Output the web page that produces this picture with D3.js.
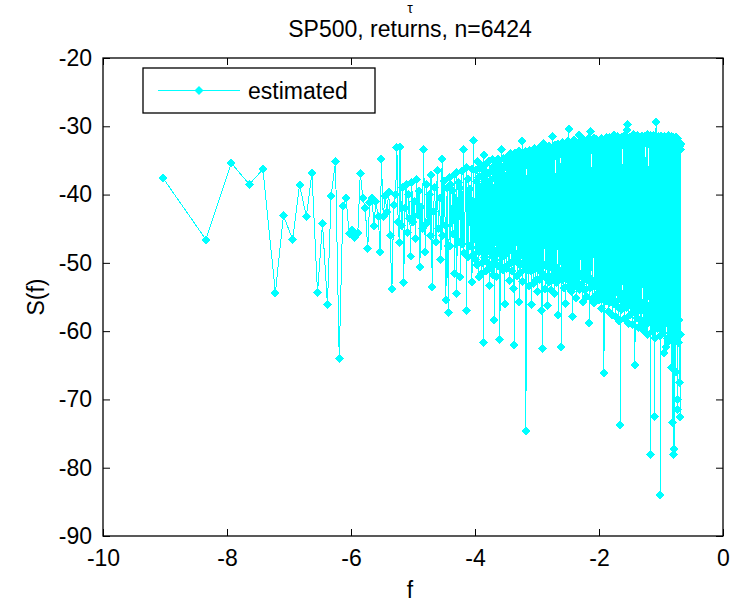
<!DOCTYPE html>
<html>
<head>
<meta charset="utf-8">
<script src="https://cdn.jsdelivr.net/npm/d3@7"></script>
<style>
  body { margin: 0; background: #fff; }
  svg text { font-family: "Liberation Sans", Arial, sans-serif; fill: #000; }
</style>
</head>
<body>
<svg id="chart" width="741" height="602"></svg>
<script>
// labels
const titleLines = ["τ", "SP500, returns, n=6424"];
const xLabel = "f";
const yLabel = "S(f)";
const seriesName = "estimated";
const xTicks = [-10, -8, -6, -4, -2, 0];
const yTicks = [-90, -80, -70, -60, -50, -40, -30, -20];

// low-frequency points, read one by one  [f, S(f)]
const headPoints = [
  [-9.03,-37.6],[-8.34,-46.6],[-7.93,-35.4],[-7.64,-38.5],[-7.42,-36.3],[-7.22,-54.4],[-7.09,-43.1],[-6.94,-46.6],
  [-6.83,-38.6],[-6.72,-43.2],[-6.63,-36.9],[-6.54,-54.4],[-6.46,-44.2],[-6.38,-56.1],[-6.32,-40.2],[-6.25,-35.2],
  [-6.19,-64.0],[-6.13,-41.7],[-6.08,-40.5],[-6.03,-45.7],[-5.98,-45.2],[-5.94,-46.3],[-5.89,-45.6],[-5.85,-36.9],
  [-5.81,-40.5],[-5.77,-42.0],[-5.73,-47.9],[-5.70,-41.2],[-5.66,-40.5],[-5.63,-44.6],[-5.60,-41.0],[-5.56,-43.2],
  [-5.53,-48.4],[-5.51,-34.8],[-5.48,-43.2],[-5.45,-40.2],[-5.42,-42.5],[-5.39,-39.6],[-5.37,-46.0],[-5.34,-53.8],
  [-5.31,-41.5],[-5.28,-40.0],[-5.26,-33.1],[-5.24,-44.0],[-5.22,-47.0],[-5.21,-33.0],[-5.19,-44.5],[-5.17,-39.0],
  [-5.15,-52.9],[-5.13,-42.0],[-5.11,-38.5],[-5.09,-45.5],[-5.07,-40.0],[-5.05,-43.5],[-5.04,-49.0],[-5.02,-38.2],
  [-5.00,-44.0],[-4.98,-41.0],[-4.96,-46.5],[-4.94,-37.8],[-4.92,-43.0],[-4.90,-39.5],[-4.89,-50.6],[-4.87,-41.8],
  [-4.85,-45.0],[-4.83,-33.4],[-4.81,-44.5],[-4.80,-48.4],[-4.78,-38.5],[-4.76,-44.0],[-4.74,-40.0],[-4.72,-46.0],
  [-4.71,-37.2],[-4.69,-53.5],[-4.67,-42.5],[-4.65,-39.0],[-4.63,-47.0],[-4.61,-36.5],[-4.59,-45.0],[-4.57,-40.5],
  [-4.55,-49.5],[-4.53,-34.8],[-4.52,-46.0],[-4.50,-38.0],[-4.48,-44.5],[-4.47,-55.4],[-4.45,-39.0],[-4.44,-47.5],
  [-4.43,-57.3],[-4.41,-37.5]
];

// dense part, estimated per pixel column  [f, upper S(f), lower S(f)]
const denseCols = [
  [-4.40,-38.5,-47.5],[-4.36,-39.4,-45.8],[-4.33,-37.0,-51.6],[-4.30,-36.8,-54.5],[-4.27,-38.2,-46.9],[-4.24,-39.0,-52.1],[-4.21,-36.5,-47.2],
  [-4.18,-33.4,-48.6],[-4.14,-36.0,-57.0],[-4.11,-37.7,-49.1],[-4.08,-39.2,-47.6],[-4.05,-36.3,-52.8],[-4.02,-32.1,-48.8],
  [-3.99,-36.4,-49.5],[-3.97,-38.1,-50.3],[-3.96,-35.2,-47.8],[-3.94,-37.5,-52.1],[-3.93,-36.0,-48.4],[-3.91,-39.0,-48.2],[-3.90,-35.7,-51.6],[-3.88,-37.2,-49.9],[-3.86,-34.2,-61.7],[-3.85,-36.6,-49.2],
  [-3.83,-37.8,-48.7],[-3.82,-35.5,-51.2],[-3.80,-36.9,-49.9],[-3.79,-38.4,-47.5],[-3.77,-35.1,-53.3],[-3.76,-36.7,-48.4],[-3.74,-37.9,-50.7],[-3.72,-34.9,-49.1],[-3.71,-36.2,-51.8],[-3.69,-35.8,-58.4],
  [-3.68,-36.9,-49.6],[-3.66,-35.3,-48.3],[-3.65,-37.6,-52.0],[-3.63,-34.8,-50.4],[-3.62,-36.3,-48.2],[-3.60,-35.6,-61.2],[-3.58,-37.1,-50.5],[-3.57,-33.4,-48.9],[-3.55,-36.0,-51.1],[-3.54,-34.7,-49.0],
  [-3.52,-35.9,-56.0],[-3.51,-37.3,-48.7],[-3.49,-34.5,-50.8],[-3.48,-36.1,-48.5],[-3.46,-35.2,-50.3],[-3.44,-36.8,-52.6],[-3.43,-34.0,-48.0],[-3.41,-35.7,-51.2],[-3.40,-36.5,-49.8],[-3.38,-34.6,-53.7],
  [-3.37,-35.4,-62.0],[-3.35,-33.9,-49.5],[-3.34,-36.2,-48.7],[-3.32,-34.8,-51.9],[-3.30,-35.9,-50.1],[-3.29,-33.6,-55.8],[-3.27,-36.4,-48.6],[-3.26,-34.3,-51.4],[-3.24,-32.1,-50.2],[-3.23,-35.0,-52.7],
  [-3.21,-34.6,-50.5],[-3.20,-35.8,-49.3],[-3.18,-33.7,-74.6],[-3.16,-35.1,-51.0],[-3.15,-34.2,-49.6],[-3.13,-36.0,-53.4],[-3.12,-33.5,-48.8],[-3.10,-34.9,-51.2],[-3.09,-35.6,-56.1],[-3.07,-33.8,-50.4],
  [-3.06,-34.7,-53.0],[-3.04,-33.2,-50.8],[-3.02,-35.4,-52.5],[-3.01,-34.0,-49.9],[-2.99,-33.5,-54.2],[-2.98,-35.1,-51.0],[-2.96,-34.3,-52.4],[-2.95,-33.0,-50.7],[-2.93,-34.8,-57.0],[-2.91,-32.9,-62.5],
  [-2.90,-34.1,-51.6],[-2.89,-32.5,-50.3],[-2.87,-34.6,-53.8],[-2.86,-33.3,-52.1],[-2.84,-35.0,-50.5],[-2.83,-33.8,-56.3],[-2.81,-32.9,-51.9],[-2.80,-34.4,-52.8],[-2.78,-33.1,-50.6],[-2.77,-34.0,-54.0],
  [-2.75,-31.5,-52.4],[-2.74,-33.6,-50.7],[-2.72,-34.2,-54.5],[-2.71,-32.8,-51.6],[-2.69,-33.9,-52.9],[-2.68,-34.5,-50.8],[-2.66,-32.6,-57.6],[-2.65,-33.4,-52.2],[-2.63,-34.1,-51.4],[-2.61,-33.0,-62.3],
  [-2.60,-33.7,-52.5],[-2.59,-32.4,-51.5],[-2.57,-34.3,-53.7],[-2.56,-33.1,-51.4],[-2.54,-32.7,-55.9],[-2.53,-34.0,-52.2],[-2.51,-33.3,-50.9],[-2.50,-32.2,-53.6],[-2.49,-30.4,-51.7],[-2.47,-33.6,-52.8],
  [-2.46,-32.8,-52.1],[-2.44,-33.9,-54.2],[-2.43,-32.3,-57.9],[-2.41,-33.5,-51.4],[-2.40,-32.0,-53.5],[-2.38,-34.2,-52.3],[-2.37,-32.6,-55.1],[-2.35,-33.1,-51.2],[-2.34,-32.4,-53.0],[-2.32,-31.3,-52.0],
  [-2.31,-33.4,-53.9],[-2.29,-32.1,-51.8],[-2.28,-33.8,-53.2],[-2.26,-32.7,-55.7],[-2.25,-31.9,-52.3],[-2.23,-33.3,-54.0],[-2.22,-32.5,-51.6],[-2.20,-33.7,-54.9],[-2.19,-32.2,-52.5],[-2.17,-31.8,-52.6],
  [-2.16,-33.0,-58.8],[-2.14,-30.8,-53.7],[-2.13,-32.9,-52.4],[-2.11,-33.5,-55.3],[-2.10,-32.4,-53.1],[-2.08,-31.7,-55.9],[-2.07,-33.2,-53.5],[-2.05,-32.6,-52.5],[-2.04,-31.9,-54.6],[-2.02,-33.1,-53.3],
  [-2.01,-32.7,-53.6],[-2.00,-33.3,-55.4],[-1.99,-32.0,-52.8],[-1.97,-32.9,-54.7],[-1.96,-31.8,-56.7],[-1.95,-33.4,-53.1],[-1.94,-32.5,-55.0],[-1.92,-32.2,-66.1],[-1.91,-33.0,-54.3],[-1.90,-31.9,-55.6],
  [-1.89,-32.6,-53.4],[-1.88,-31.7,-55.5],[-1.86,-33.1,-54.0],[-1.85,-32.3,-57.1],[-1.84,-32.8,-53.9],[-1.83,-31.6,-55.8],[-1.81,-33.2,-54.8],[-1.80,-32.4,-53.1],[-1.79,-31.9,-57.6],[-1.78,-32.7,-55.2],
  [-1.76,-31.3,-56.0],[-1.75,-32.6,-54.2],[-1.74,-32.0,-55.6],[-1.73,-33.0,-57.9],[-1.71,-32.2,-54.2],[-1.70,-31.5,-56.4],[-1.69,-32.8,-53.8],[-1.68,-32.1,-58.5],[-1.66,-31.8,-73.7],[-1.65,-32.9,-55.4],
  [-1.64,-32.4,-56.8],[-1.63,-31.6,-54.5],[-1.61,-32.7,-56.1],[-1.60,-32.0,-55.1],[-1.59,-31.4,-58.2],[-1.58,-32.5,-54.3],[-1.56,-31.9,-56.5],[-1.55,-30.6,-55.7],[-1.54,-29.7,-54.8],[-1.53,-32.3,-58.9],
  [-1.51,-32.1,-55.9],[-1.50,-31.5,-57.7],[-1.49,-32.6,-54.6],[-1.48,-31.8,-56.3],[-1.46,-32.4,-59.0],[-1.45,-31.2,-55.3],[-1.44,-32.8,-57.2],[-1.43,-31.9,-54.9],[-1.42,-32.2,-64.9],[-1.41,-31.7,-56.4],
  [-1.39,-32.5,-58.1],[-1.38,-31.3,-55.2],[-1.37,-32.0,-57.0],[-1.36,-31.6,-59.5],[-1.34,-32.7,-56.1],[-1.33,-31.9,-58.4],[-1.32,-32.3,-55.8],[-1.31,-31.4,-58.8],[-1.29,-32.6,-56.6],[-1.28,-31.8,-59.9],
  [-1.27,-32.1,-56.2],[-1.26,-31.5,-59.3],[-1.24,-32.4,-57.4],[-1.23,-31.9,-58.0],[-1.22,-31.2,-60.5],[-1.21,-32.6,-56.3],[-1.19,-31.7,-58.6],[-1.18,-32.0,-57.5],[-1.17,-31.4,-78.1],[-1.16,-32.3,-56.9],
  [-1.14,-31.8,-60.1],[-1.13,-32.5,-57.8],[-1.12,-31.3,-59.2],[-1.11,-32.0,-56.7],[-1.10,-31.6,-72.5],[-1.09,-32.2,-61.0],[-1.08,-29.4,-58.3],[-1.06,-31.9,-59.6],[-1.05,-32.4,-56.4],[-1.04,-31.5,-59.1],
  [-1.03,-32.2,-57.9],[-1.02,-31.7,-60.7],[-1.01,-32.5,-84.0],[-1.00,-31.4,-59.4],[-0.98,-32.0,-57.2],[-0.97,-31.8,-60.3],[-0.96,-32.6,-58.1],[-0.95,-31.5,-63.2],[-0.94,-32.1,-58.9],[-0.93,-31.9,-57.7],
  [-0.92,-32.4,-62.3],[-0.91,-31.6,-58.4],[-0.90,-32.2,-61.1],[-0.89,-31.9,-58.7],[-0.88,-31.3,-61.5],[-0.87,-32.5,-58.0],[-0.85,-31.8,-60.2],[-0.84,-32.1,-59.3],[-0.83,-31.5,-65.3],[-0.82,-32.3,-59.5],
  [-0.81,-32.0,-73.4],[-0.80,-31.7,-78.1],[-0.79,-32.6,-77.2],[-0.78,-31.9,-60.6],[-0.77,-32.3,-59.0],[-0.76,-31.6,-66.0],[-0.75,-32.1,-61.3],[-0.74,-32.8,-70.0],[-0.73,-31.8,-71.5],[-0.72,-32.4,-61.7],
  [-0.71,-32.3,-58.3],[-0.70,-32.9,-67.5],[-0.69,-33.4,-72.6],[-0.68,-32.6,-60.5]
];

const margin = {top: 58, right: 18, bottom: 66, left: 103};
const width = 741 - margin.left - margin.right;
const height = 602 - margin.top - margin.bottom;
const fontSize = 23;
const cyan = "#00ffff";

const svg = d3.select("#chart");
const g = svg.append("g").attr("transform", `translate(${margin.left},${margin.top})`);

const x = d3.scaleLinear().domain([-10, 0]).range([0, width]);
const y = d3.scaleLinear().domain([-90, -20]).range([height, 0]);

// series in plot order
const series = headPoints.map(([f, s]) => ({f, s}));
denseCols.forEach(([f, hi, lo]) => {
  series.push({f, s: hi});
  series.push({f, s: lo});
});

const line = d3.line().x(d => x(d.f)).y(d => y(d.s));
const diamond = "M0,-4.5L4.5,0L0,4.5L-4.5,0Z";

g.append("path")
  .datum(series)
  .attr("d", line)
  .attr("fill", "none")
  .attr("stroke", cyan)
  .attr("stroke-width", 1)
  .attr("shape-rendering", "crispEdges");

g.append("g").selectAll("path")
  .data(series)
  .join("path")
  .attr("d", diamond)
  .attr("transform", d => `translate(${x(d.f)},${y(d.s)})`)
  .attr("fill", cyan)
  .attr("shape-rendering", "crispEdges");

// axes, ticks pointing inward on all four sides
const styleAxis = sel => {
  sel.select(".domain").remove();
  sel.attr("font-size", fontSize).attr("font-family", '"Liberation Sans", Arial, sans-serif');
  sel.selectAll(".tick line").attr("stroke", "#000");
};
g.append("g").attr("transform", `translate(0,${height})`)
  .call(d3.axisBottom(x).tickValues(xTicks).tickSize(-7).tickPadding(14).tickFormat(d => String(d)))
  .call(styleAxis);
g.append("g")
  .call(d3.axisTop(x).tickValues(xTicks).tickSize(-7).tickFormat(""))
  .call(styleAxis);
g.append("g")
  .call(d3.axisLeft(y).tickValues(yTicks).tickSize(-7).tickPadding(11).tickFormat(d => String(d)))
  .call(styleAxis);
g.append("g").attr("transform", `translate(${width},0)`)
  .call(d3.axisRight(y).tickValues(yTicks).tickSize(-7).tickFormat(""))
  .call(styleAxis);

g.append("rect")
  .attr("x", 0).attr("y", 0)
  .attr("width", width).attr("height", height)
  .attr("fill", "none")
  .attr("stroke", "#000")
  .attr("stroke-width", 1.3);

// legend
const legend = g.append("g").attr("transform", "translate(40,10)");
legend.append("rect")
  .attr("x", 0).attr("y", 0).attr("width", 232).attr("height", 45)
  .attr("fill", "#fff").attr("stroke", "#000").attr("stroke-width", 1.3);
legend.append("line")
  .attr("x1", 15).attr("x2", 97).attr("y1", 22.5).attr("y2", 22.5)
  .attr("stroke", cyan).attr("stroke-width", 1);
legend.append("path")
  .attr("d", diamond)
  .attr("transform", "translate(56,22.5)")
  .attr("fill", cyan);
legend.append("text")
  .attr("x", 105).attr("y", 31)
  .attr("font-size", fontSize)
  .text(seriesName);

// titles (the tau line sits at the very top edge, kept small so it stays inside)
svg.append("text")
  .attr("x", margin.left + width / 2 - 3).attr("y", 13)
  .attr("text-anchor", "middle").attr("font-size", 14)
  .text(titleLines[0]);
svg.append("text")
  .attr("x", margin.left + width / 2 - 3).attr("y", 37)
  .attr("text-anchor", "middle").attr("font-size", fontSize)
  .text(titleLines[1]);

svg.append("text")
  .attr("x", margin.left + width / 2 - 3).attr("y", 598)
  .attr("text-anchor", "middle").attr("font-size", fontSize)
  .text(xLabel);
svg.append("text")
  .attr("transform", `translate(44,${margin.top + height / 2}) rotate(-90)`)
  .attr("text-anchor", "middle").attr("font-size", fontSize)
  .text(yLabel);
</script>
</body>
</html>
